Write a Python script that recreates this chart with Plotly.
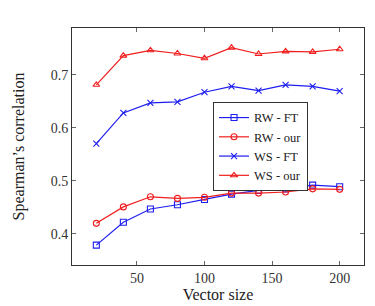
import plotly.graph_objects as go

vector_size = [20, 40, 60, 80, 100, 120, 140, 160, 180, 200]
rw_ft = [0.379, 0.422, 0.447, 0.455, 0.465, 0.475, 0.482, 0.485, 0.492, 0.489]
rw_our = [0.420, 0.451, 0.470, 0.467, 0.469, 0.477, 0.477, 0.479, 0.485, 0.484]
ws_ft = [0.570, 0.628, 0.647, 0.649, 0.667, 0.678, 0.670, 0.681, 0.678, 0.669]
ws_our = [0.681, 0.736, 0.746, 0.740, 0.731, 0.751, 0.739, 0.744, 0.743, 0.748]

x_ticks = [50, 100, 150, 200]
y_ticks = [0.4, 0.5, 0.6, 0.7]

BLUE = "rgb(30,30,240)"
RED = "rgb(240,30,30)"
FONT = "Liberation Serif, Times New Roman, serif"

series = [
    ("RW - FT", rw_ft, BLUE, "square-open"),
    ("RW - our", rw_our, RED, "circle-open"),
    ("WS - FT", ws_ft, BLUE, "x-thin-open"),
    ("WS - our", ws_our, RED, "triangle-up-open"),
]

fig = go.Figure()
for name, vals, col, sym in series:
    fig.add_trace(go.Scatter(
        x=vector_size, y=vals, name=name, mode="lines+markers",
        line=dict(color=col, width=1.2),
        marker=dict(symbol=sym, size=6, color=col, line=dict(color=col, width=1.1)),
    ))

axis_common = dict(
    showline=True, linecolor="#333", linewidth=1, mirror="allticks",
    ticks="inside", ticklen=4, tickcolor="#666", showgrid=False, zeroline=False,
    tickfont=dict(family=FONT, size=14, color="#333"),
    automargin=False,
)
fig.update_xaxes(range=[2, 218], tickvals=x_ticks, ticktext=[str(v) for v in x_ticks],
                 title=dict(text="Vector size", font=dict(family=FONT, size=16, color="#222"), standoff=4),
                 **axis_common)
fig.update_yaxes(range=[0.3415, 0.788], tickvals=y_ticks, ticktext=[f"{v:.1f}" for v in y_ticks],
                 title=dict(text="Spearman’s correlation", font=dict(family=FONT, size=16, color="#222"), standoff=22),
                 **axis_common)

fig.update_layout(
    width=375, height=306,
    margin=dict(l=72, r=11, t=28, b=41),
    paper_bgcolor="white", plot_bgcolor="white",
    showlegend=True,
    legend=dict(x=0.483, y=0.688, xanchor="left", yanchor="top",
                bgcolor="white", bordercolor="#333", borderwidth=1,
                font=dict(family=FONT, size=12.5, color="#222"),
                tracegroupgap=0, itemwidth=30),
)

fig.write_html("out.html")
